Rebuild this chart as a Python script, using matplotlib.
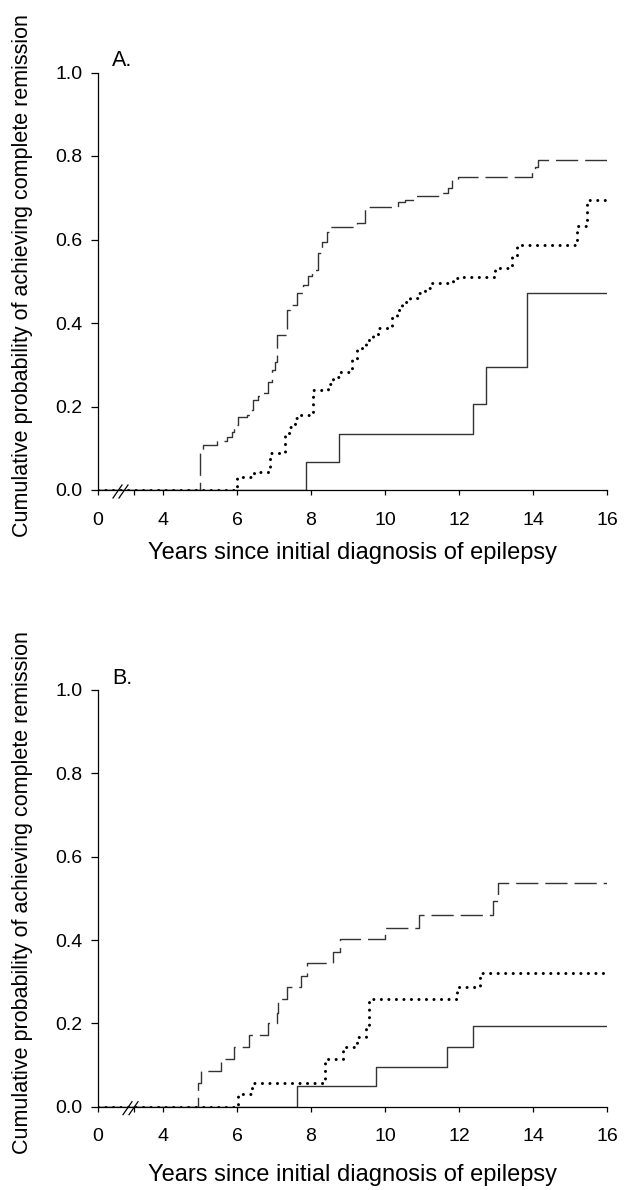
import numpy as np
import matplotlib
matplotlib.use('Agg')
import matplotlib.pyplot as plt

plt.rcParams['font.family'] = ['Liberation Sans', 'DejaVu Sans']

# ---- panel A: cumulative probability of complete remission ----
a_dash_t = [0, 5.00, 5.09, 5.45, 5.72, 5.86, 5.92, 6.04, 6.26, 6.35, 6.44, 6.58, 6.71, 6.85,
            6.94, 7.03, 7.07, 7.34, 7.43, 7.61, 7.79, 7.93, 8.02, 8.20, 8.29, 8.42, 8.51,
            9.23, 9.46, 10.36, 10.54, 10.81, 11.53, 11.71, 11.80, 11.98, 13.96, 14.05, 14.14]
a_dash_y = [0, 0.096, 0.108, 0.118, 0.128, 0.140, 0.156, 0.176, 0.180, 0.192, 0.216, 0.225,
            0.233, 0.259, 0.287, 0.307, 0.371, 0.431, 0.443, 0.471, 0.491, 0.513, 0.527,
            0.567, 0.595, 0.619, 0.631, 0.639, 0.679, 0.691, 0.695, 0.704, 0.712, 0.723,
            0.743, 0.750, 0.761, 0.774, 0.790]

a_dot_t = [0, 5.99, 6.46, 6.89, 7.30, 7.43, 7.57, 7.70, 7.97, 8.06, 8.47, 8.60, 8.78, 9.10,
           9.23, 9.37, 9.50, 9.68, 9.82, 10.18, 10.32, 10.45, 10.68, 10.90, 11.08, 11.26,
           11.85, 11.98, 12.97, 13.42, 13.56, 15.18, 15.45]
a_dot_y = [0, 0.030, 0.044, 0.089, 0.136, 0.150, 0.172, 0.180, 0.188, 0.240, 0.255, 0.271,
           0.283, 0.311, 0.335, 0.347, 0.359, 0.371, 0.387, 0.411, 0.431, 0.451, 0.459,
           0.471, 0.483, 0.495, 0.507, 0.511, 0.531, 0.559, 0.587, 0.632, 0.695]

a_solid_t = [0, 7.86, 8.77, 12.39, 12.73, 13.83]
a_solid_y = [0, 0.068, 0.133, 0.206, 0.295, 0.471]

# ---- panel B ----
b_dash_t = [0, 4.95, 5.02, 5.56, 5.92, 6.33, 6.83, 7.07, 7.12, 7.34, 7.72, 7.90, 8.60, 8.78,
            10.00, 10.93, 12.93, 13.06]
b_dash_y = [0, 0.056, 0.086, 0.114, 0.144, 0.172, 0.202, 0.224, 0.258, 0.288, 0.314, 0.344,
            0.372, 0.402, 0.430, 0.459, 0.494, 0.538]

b_dot_t = [0, 6.04, 6.40, 8.38, 8.87, 9.23, 9.50, 9.57, 11.94, 12.57]
b_dot_y = [0, 0.030, 0.058, 0.114, 0.144, 0.168, 0.194, 0.258, 0.288, 0.322]

b_solid_t = [0, 7.63, 9.77, 11.67, 12.37]
b_solid_y = [0, 0.050, 0.096, 0.144, 0.194]

x_ticks = [0, 2, 4, 6, 8, 10, 12, 14, 16]
x_ticklabels = ['0', '', '4', '6', '8', '10', '12', '14', '16']
y_ticks = [0.0, 0.2, 0.4, 0.6, 0.8, 1.0]
x_end = 16

xlabel = 'Years since initial diagnosis of epilepsy'
ylabel = 'Cumulative probability of achieving complete remission'

# broken x axis: the stretch before year 4 is squeezed
knots_t = [-100, 0, 2, 4, 16, 100]
knots_u = [-1800, 0, 36, 65, 509, 3617]


def fwd(t):
    return np.interp(t, knots_t, knots_u)


def inv(u):
    return np.interp(u, knots_u, knots_t)


def extend(t, y):
    # carry the last value out to the end of follow-up
    return list(t) + [x_end], list(y) + [y[-1]]


def draw_panel(ax, letter, dash, dot, solid, brk, xlab_y):
    ax.set_xscale('function', functions=(fwd, inv))
    t, y = extend(*dash)
    ax.step(t, y, where='post', color='#333333', lw=1.0, dashes=(16, 5))
    t, y = extend(*dot)
    ax.step(t, y, where='post', color='black', lw=2.2,
            dashes=(0.01, 2.45), dash_capstyle='round')
    t, y = extend(*solid)
    ax.step(t, y, where='post', color='#333333', lw=1.0)

    ax.set_xlim(0, 16)
    ax.set_ylim(0, 1.0)
    ax.set_xticks(x_ticks)
    ax.set_xticklabels(x_ticklabels)
    ax.set_yticks(y_ticks)
    ax.set_yticklabels(['%.1f' % v for v in y_ticks])
    ax.minorticks_off()
    for s in ['top', 'right']:
        ax.spines[s].set_visible(False)
    for s in ['left', 'bottom']:
        ax.spines[s].set_linewidth(0.9)
    ax.tick_params(axis='y', direction='out', length=5, width=0.9, pad=6, labelsize=14)
    ax.tick_params(axis='x', direction='out', length=3.5, width=0.9, pad=12, labelsize=14)

    ax.set_xlabel(xlabel, fontsize=17)
    ax.xaxis.set_label_coords(0.5, xlab_y)
    ax.set_ylabel(ylabel, fontsize=15.5)
    ax.yaxis.set_label_coords(-0.127, 0.514)

    ax.text(0.0275, 1.015, letter, transform=ax.transAxes, fontsize=15.5, va='baseline')

    # "//" break marks on the x axis
    for dx in (0, 6):
        x0 = (brk + dx - 98) / 509
        x1 = (brk + dx + 9 - 98) / 509
        ax.plot([x0, x1], [-8 / 417.5, 5 / 417.5], transform=ax.transAxes,
                color='black', lw=0.9, clip_on=False)


fig = plt.figure(figsize=(6.26, 11.9), dpi=100)
axA = fig.add_axes([98 / 626, 1 - 490 / 1190, 509 / 626, 417.5 / 1190])
axB = fig.add_axes([98 / 626, 1 - 1106.7 / 1190, 509 / 626, 416.7 / 1190])

draw_panel(axA, 'A.', (a_dash_t, a_dash_y), (a_dot_t, a_dot_y), (a_solid_t, a_solid_y), 113, -0.125)
draw_panel(axB, 'B.', (b_dash_t, b_dash_y), (b_dot_t, b_dot_y), (b_solid_t, b_solid_y), 123, -0.138)

fig.savefig('out.png', dpi=100)
